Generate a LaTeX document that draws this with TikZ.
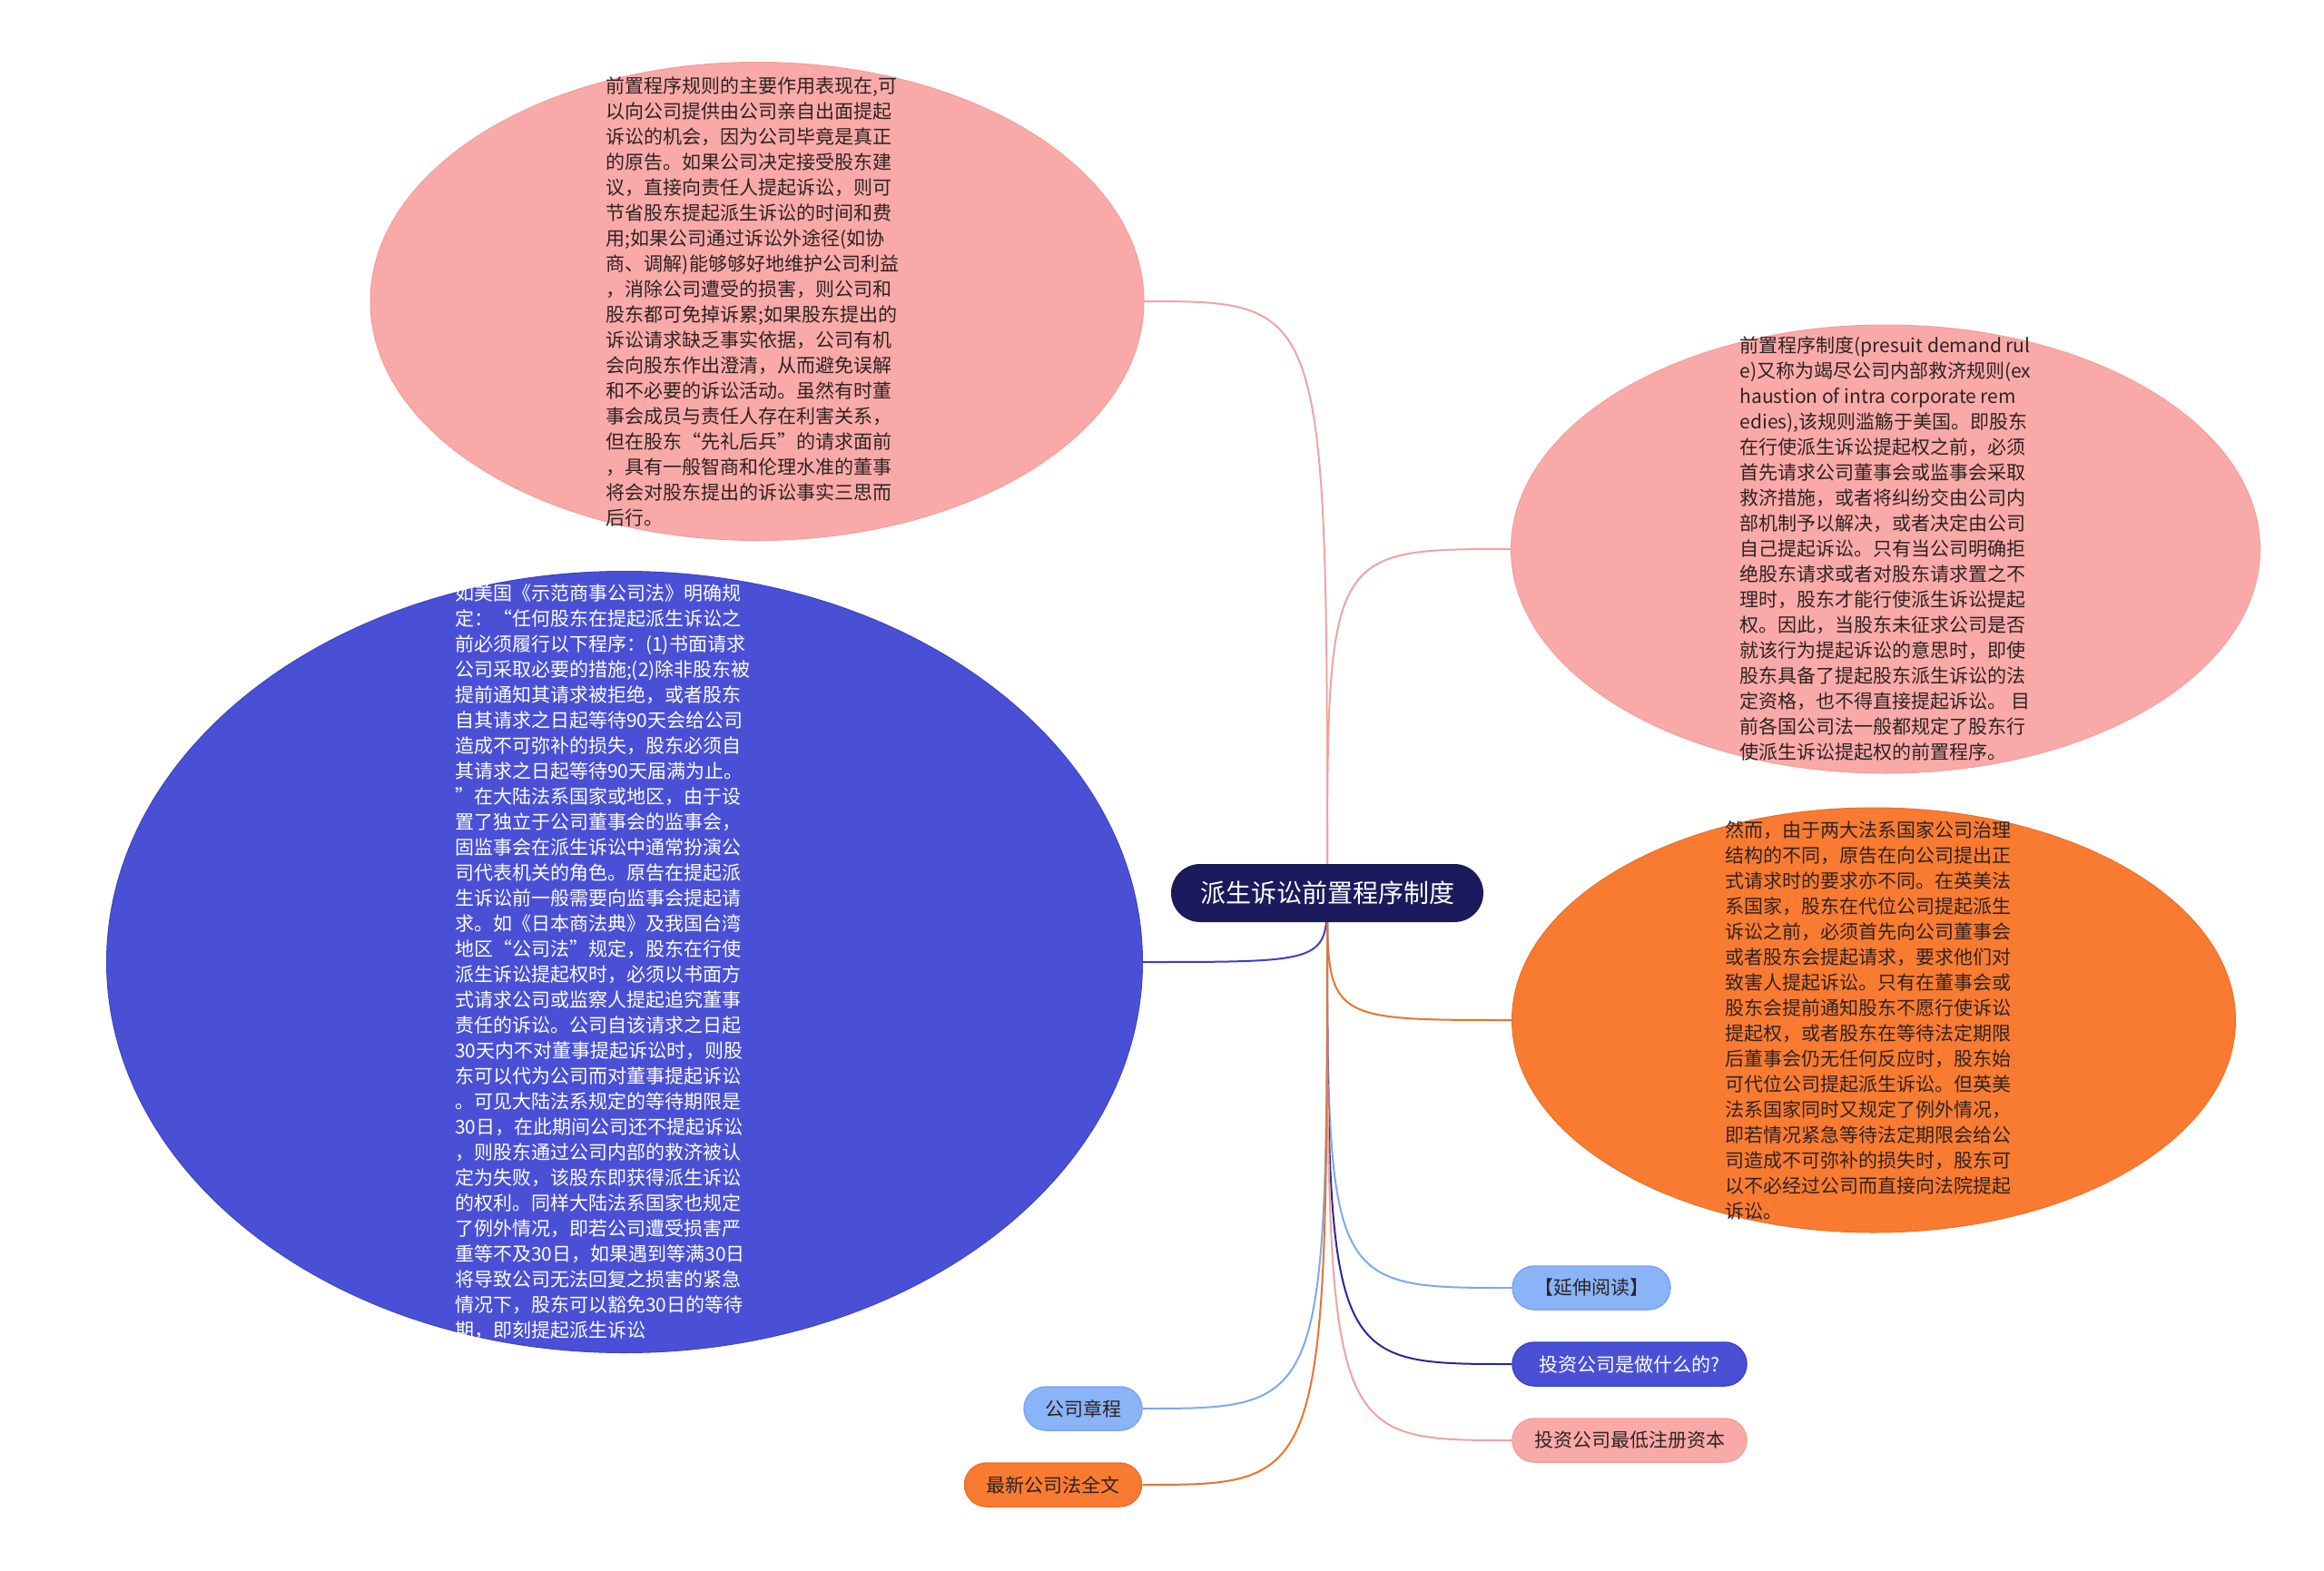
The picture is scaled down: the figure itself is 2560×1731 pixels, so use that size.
\documentclass[tikz,border=0pt]{standalone}
\usepackage{fontspec}
\newfontfamily\cjk{Noto Sans CJK SC}
\usetikzlibrary{shapes.geometric}
\pgfdeclarelayer{bg}
\pgfdeclarelayer{edges}
\pgfsetlayers{bg,edges,main}
\definecolor{pinkfill}{HTML}{F9AAA8}
\definecolor{pinkborder}{HTML}{F39E9C}
\definecolor{bluefill}{HTML}{4A50D6}
\definecolor{blueborder}{HTML}{3E44C2}
\definecolor{orangefill}{HTML}{F97B31}
\definecolor{orangeborder}{HTML}{EC7029}
\definecolor{rootfill}{HTML}{1B1A5C}
\definecolor{lblue}{HTML}{8AB4F8}
\definecolor{lblueborder}{HTML}{7AA6EE}
\definecolor{textdark}{HTML}{2E2222}
\definecolor{pinkedge}{HTML}{F2A3A1}
\definecolor{blueedge}{HTML}{3C41C0}
\definecolor{orangeedge}{HTML}{E87430}
\definecolor{lblueedge}{HTML}{7EA9EE}
\definecolor{navyedge}{HTML}{252A95}
\tikzset{
  bubble/.style={ellipse, inner sep=0pt, line width=1pt},
  bodytext/.style={inner sep=0pt, align=left, font=\cjk\fontsize{21}{28}\selectfont},
  root/.style={rounded corners=32pt, fill=rootfill, text=white, minimum width=344pt, minimum height=64pt, inner sep=0pt, font=\cjk\fontsize{28}{34}\selectfont},
  leaf/.style={rounded corners=24pt, minimum height=48pt, inner sep=0pt, line width=1.5pt, text=textdark, font=\cjk\fontsize{21}{25}\selectfont},
  link/.style={line width=2pt}
}
\begin{document}
\begin{tikzpicture}[x=1pt,y=-1pt]
\begin{pgfonlayer}{bg}
\fill[white] (0,0) rectangle (2560,1731);
\end{pgfonlayer}
\useasboundingbox (0,0) rectangle (2560,1731);

% big bubbles
\node[bubble, fill=pinkfill, draw=pinkborder, minimum width=852pt, minimum height=527pt] (n1) at (834,332) {};
\node[bodytext, text=textdark] (n1t) at (829,332) {前置程序规则的主要作用表现在,可\\以向公司提供由公司亲自出面提起\\诉讼的机会，因为公司毕竟是真正\\的原告。如果公司决定接受股东建\\议，直接向责任人提起诉讼，则可\\节省股东提起派生诉讼的时间和费\\用;如果公司通过诉讼外途径(如协\\商、调解)能够够好地维护公司利益\\，消除公司遭受的损害，则公司和\\股东都可免掉诉累;如果股东提出的\\诉讼请求缺乏事实依据，公司有机\\会向股东作出澄清，从而避免误解\\和不必要的诉讼活动。虽然有时董\\事会成员与责任人存在利害关系，\\但在股东“先礼后兵”的请求面前\\，具有一般智商和伦理水准的董事\\将会对股东提出的诉讼事实三思而\\后行。};

\node[bubble, fill=bluefill, draw=blueborder, minimum width=1141pt, minimum height=861pt] (n2) at (688,1060) {};
\node[bodytext, text=white] (n2t) at (664,1060) {如美国《示范商事公司法》明确规\\定：“任何股东在提起派生诉讼之\\前必须履行以下程序：(1)书面请求\\公司采取必要的措施;(2)除非股东被\\提前通知其请求被拒绝，或者股东\\自其请求之日起等待90天会给公司\\造成不可弥补的损失，股东必须自\\其请求之日起等待90天届满为止。\\”在大陆法系国家或地区，由于设\\置了独立于公司董事会的监事会，\\固监事会在派生诉讼中通常扮演公\\司代表机关的角色。原告在提起派\\生诉讼前一般需要向监事会提起请\\求。如《日本商法典》及我国台湾\\地区“公司法”规定，股东在行使\\派生诉讼提起权时，必须以书面方\\式请求公司或监察人提起追究董事\\责任的诉讼。公司自该请求之日起\\30天内不对董事提起诉讼时，则股\\东可以代为公司而对董事提起诉讼\\。可见大陆法系规定的等待期限是\\30日，在此期间公司还不提起诉讼\\，则股东通过公司内部的救济被认\\定为失败，该股东即获得派生诉讼\\的权利。同样大陆法系国家也规定\\了例外情况，即若公司遭受损害严\\重等不及30日，如果遇到等满30日\\将导致公司无法回复之损害的紧急\\情况下，股东可以豁免30日的等待\\期，即刻提起派生诉讼};

\node[bubble, fill=pinkfill, draw=pinkborder, minimum width=825pt, minimum height=494pt] (n3) at (2077,605) {};
\node[bodytext, text=textdark] (n3t) at (2077,605) {前置程序制度(presuit demand rul\\e)又称为竭尽公司内部救济规则(ex\\haustion of intra corporate rem\\edies),该规则滥觞于美国。即股东\\在行使派生诉讼提起权之前，必须\\首先请求公司董事会或监事会采取\\救济措施，或者将纠纷交由公司内\\部机制予以解决，或者决定由公司\\自己提起诉讼。只有当公司明确拒\\绝股东请求或者对股东请求置之不\\理时，股东才能行使派生诉讼提起\\权。因此，当股东未征求公司是否\\就该行为提起诉讼的意思时，即使\\股东具备了提起股东派生诉讼的法\\定资格，也不得直接提起诉讼。 目\\前各国公司法一般都规定了股东行\\使派生诉讼提起权的前置程序。};

\node[bubble, fill=orangefill, draw=orangeborder, minimum width=797pt, minimum height=468pt] (n4) at (2064,1124) {};
\node[bodytext, text=textdark] (n4t) at (2058,1124) {然而，由于两大法系国家公司治理\\结构的不同，原告在向公司提出正\\式请求时的要求亦不同。在英美法\\系国家，股东在代位公司提起派生\\诉讼之前，必须首先向公司董事会\\或者股东会提起请求，要求他们对\\致害人提起诉讼。只有在董事会或\\股东会提前通知股东不愿行使诉讼\\提起权，或者股东在等待法定期限\\后董事会仍无任何反应时，股东始\\可代位公司提起派生诉讼。但英美\\法系国家同时又规定了例外情况，\\即若情况紧急等待法定期限会给公\\司造成不可弥补的损失时，股东可\\以不必经过公司而直接向法院提起\\诉讼。};

% root
\node[root] (root) at (1462,984) {派生诉讼前置程序制度};

% leaves
\node[leaf, fill=lblue, draw=lblueborder, minimum width=174pt] (l1) at (1753,1419) {【延伸阅读】};
\node[leaf, fill=bluefill, draw=blueborder, text=white, minimum width=258pt] (l2) at (1795,1503) {投资公司是做什么的?};
\node[leaf, fill=pinkfill, draw=pinkborder, minimum width=258pt] (l3) at (1795,1587) {投资公司最低注册资本};
\node[leaf, fill=lblue, draw=lblueborder, minimum width=130pt] (l4) at (1193,1552) {公司章程};
\node[leaf, fill=orangefill, draw=orangeborder, minimum width=195pt] (l5) at (1160,1636) {最新公司法全文};

% connectors
\begin{pgfonlayer}{edges}
\draw[link, draw=pinkedge] (root.center) .. controls (root.center |- n1.east) .. (n1.east);
\draw[link, draw=blueedge] (root.center) .. controls (root.center |- n2.east) .. (n2.east);
\draw[link, draw=pinkedge] (root.center) .. controls (root.center |- n3.west) .. (n3.west);
\draw[link, draw=orangeedge] (root.center) .. controls (root.center |- n4.west) .. (n4.west);
\draw[link, draw=lblueedge] (root.center) .. controls (root.center |- l1.west) .. (l1.west);
\draw[link, draw=navyedge] (root.center) .. controls (root.center |- l2.west) .. (l2.west);
\draw[link, draw=pinkedge] (root.center) .. controls (root.center |- l3.west) .. (l3.west);
\draw[link, draw=lblueedge] (root.center) .. controls (root.center |- l4.east) .. (l4.east);
\draw[link, draw=orangeedge] (root.center) .. controls (root.center |- l5.east) .. (l5.east);
\end{pgfonlayer}
\end{tikzpicture}
\end{document}
